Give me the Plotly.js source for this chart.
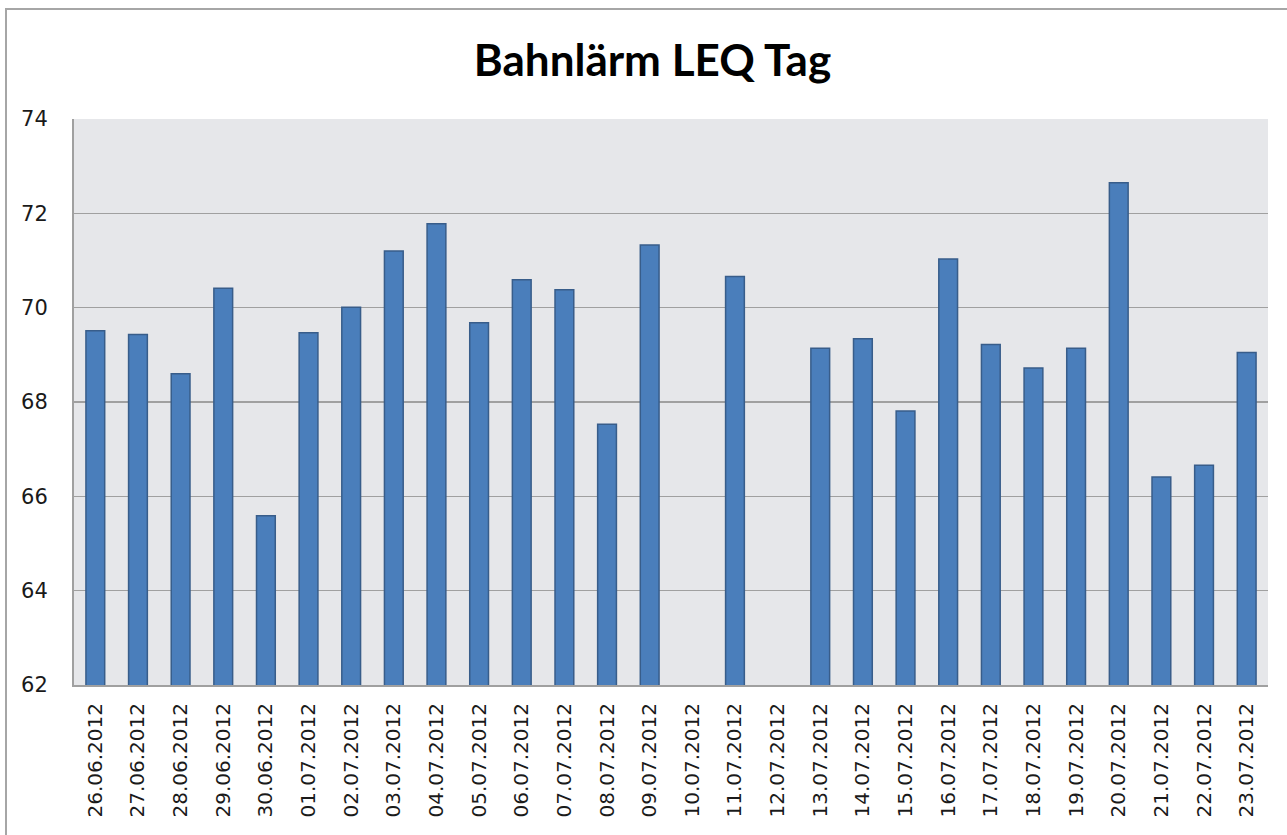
<!DOCTYPE html>
<html>
<head>
<meta charset="utf-8">
<script src="https://cdn.plot.ly/plotly-3.0.1.min.js"></script>
<style>
html,body{margin:0;padding:0;background:#fff;}
#wrap{position:relative;width:1287px;height:835px;overflow:hidden;}
#chart{position:absolute;left:0;top:0;width:1287px;height:835px;}
#frame{position:absolute;left:5px;top:8px;width:1300px;height:900px;border:2px solid #a6a6a6;box-sizing:border-box;pointer-events:none;}
</style>
</head>
<body>
<div id="wrap">
<div id="chart"></div>
<div id="frame"></div>
</div>
<script>
const dates = ["26.06.2012","27.06.2012","28.06.2012","29.06.2012","30.06.2012","01.07.2012","02.07.2012","03.07.2012","04.07.2012","05.07.2012","06.07.2012","07.07.2012","08.07.2012","09.07.2012","10.07.2012","11.07.2012","12.07.2012","13.07.2012","14.07.2012","15.07.2012","16.07.2012","17.07.2012","18.07.2012","19.07.2012","20.07.2012","21.07.2012","22.07.2012","23.07.2012"];
const leqTag = [69.51,69.43,68.60,70.41,65.59,69.47,70.01,71.20,71.78,69.68,70.59,70.38,67.53,71.33,null,70.66,null,69.14,69.34,67.81,71.03,69.22,68.72,69.14,72.65,66.41,66.66,69.05];
const yTicks = [62,64,66,68,70,72,74];
const chartTitle = "Bahnlärm LEQ Tag";

const trace = {
  type: "bar",
  x: dates,
  y: leqTag,
  marker: {color: "#4a7ebb", line: {color: "#385d8a", width: 1.5}},
  hoverinfo: "x+y"
};
const layout = {
  width: 1287, height: 835,
  margin: {l: 74, r: 19, t: 119, b: 150, pad: 0},
  paper_bgcolor: "rgba(0,0,0,0)",
  plot_bgcolor: "#e6e7ea",
  showlegend: false,
  bargap: 0.56,
  title: {text: "<b>" + chartTitle + "</b>", x: 0.507, xanchor: "center", y: 0.928, yanchor: "middle",
          font: {family: "Lato, 'Noto Sans', sans-serif", size: 44, color: "#000"}},
  xaxis: {
    type: "category", tickangle: -90,
    tickfont: {family: "DejaVu Sans, sans-serif", size: 20, color: "#1a1a1a"},
    showgrid: false, showline: true, linecolor: "#a0a0a0", linewidth: 2,
    ticks: "", ticklen: 0, ticklabelstandoff: 8
  },
  yaxis: {
    range: [62, 74], tickvals: yTicks, ticktext: yTicks.map(String),
    tickfont: {family: "DejaVu Sans, sans-serif", size: 21, color: "#1a1a1a"},
    showgrid: true, gridcolor: "#a0a0a0", gridwidth: 1.5,
    showline: true, linecolor: "#a0a0a0", linewidth: 2, mirror: false,
    zeroline: false, ticks: "", ticklabelstandoff: 20
  }
};
Plotly.newPlot("chart", [trace], layout, {displayModeBar: false, staticPlot: true});
</script>
</body>
</html>
